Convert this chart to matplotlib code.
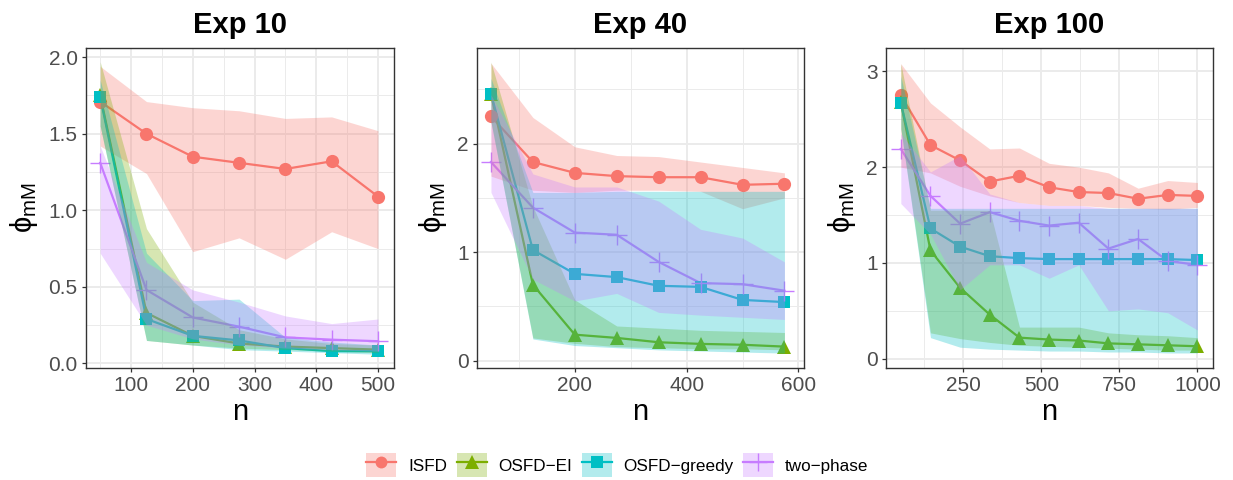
import matplotlib
matplotlib.use("Agg")
import matplotlib.pyplot as plt
from matplotlib.lines import Line2D
from matplotlib.patches import Patch
from matplotlib.legend_handler import HandlerTuple
from matplotlib.ticker import FixedLocator

plt.rcParams['font.family'] = ['Liberation Sans', 'DejaVu Sans']
plt.rcParams['mathtext.fontset'] = 'custom'
plt.rcParams['mathtext.rm'] = 'Liberation Sans'
plt.rcParams['mathtext.it'] = 'Liberation Sans:italic'

# method names / colours (ggplot default hue palette)
methods = ['ISFD', 'OSFD\u2212EI', 'OSFD\u2212greedy', 'two\u2212phase']
colors = ['#F8766D', '#7CAE00', '#00BFC4', '#C77CFF']
markers = ['o', '^', 's', '+']
msizes = [9.5, 10.5, 9, 14]

# ---- Exp 10 ----
n10 = [50, 125, 200, 275, 350, 425, 500]
isfd10 = [1.71, 1.50, 1.35, 1.31, 1.27, 1.32, 1.09]
isfd10_lo = [1.42, 1.24, 0.73, 0.82, 0.68, 0.86, 0.75]
isfd10_hi = [1.94, 1.71, 1.67, 1.65, 1.60, 1.61, 1.52]
ei10 = [1.75, 0.33, 0.18, 0.13, 0.11, 0.10, 0.09]
ei10_lo = [1.55, 0.15, 0.12, 0.10, 0.09, 0.08, 0.07]
ei10_hi = [1.97, 0.88, 0.40, 0.22, 0.16, 0.13, 0.12]
gr10 = [1.74, 0.29, 0.18, 0.15, 0.10, 0.08, 0.08]
gr10_lo = [1.55, 0.15, 0.12, 0.09, 0.08, 0.07, 0.06]
gr10_hi = [1.85, 0.72, 0.41, 0.42, 0.17, 0.14, 0.12]
tp10 = [1.31, 0.48, 0.30, 0.24, 0.17, 0.155, 0.145]
tp10_lo = [0.72, 0.25, 0.16, 0.12, 0.10, 0.09, 0.08]
tp10_hi = [1.42, 0.66, 0.48, 0.40, 0.31, 0.26, 0.29]

# ---- Exp 40 ----
n40 = [50, 125, 200, 275, 350, 425, 500, 575]
isfd40 = [2.25, 1.83, 1.73, 1.70, 1.69, 1.69, 1.62, 1.63]
isfd40_lo = [1.70, 1.57, 1.55, 1.57, 1.57, 1.56, 1.40, 1.50]
isfd40_hi = [2.74, 2.24, 1.97, 1.89, 1.88, 1.83, 1.78, 1.73]
ei40 = [2.46, 0.70, 0.24, 0.21, 0.17, 0.155, 0.147, 0.13]
ei40_lo = [2.20, 0.21, 0.16, 0.13, 0.12, 0.11, 0.11, 0.10]
ei40_hi = [2.75, 1.42, 0.56, 0.32, 0.30, 0.28, 0.27, 0.26]
gr40 = [2.46, 1.02, 0.80, 0.77, 0.69, 0.68, 0.56, 0.54]
gr40_lo = [2.20, 0.20, 0.14, 0.12, 0.10, 0.09, 0.08, 0.07]
gr40_hi = [2.60, 1.55, 1.55, 1.56, 1.56, 1.56, 1.56, 1.56]
tp40 = [1.83, 1.41, 1.18, 1.16, 0.91, 0.715, 0.705, 0.645]
tp40_lo = [1.55, 0.75, 0.55, 0.62, 0.445, 0.42, 0.40, 0.38]
tp40_hi = [2.45, 1.72, 1.60, 1.60, 1.47, 1.21, 1.13, 0.91]

# ---- Exp 100 ----
n100 = [50, 145, 240, 335, 430, 525, 620, 715, 810, 905, 1000]
isfd100 = [2.75, 2.23, 2.07, 1.85, 1.91, 1.79, 1.74, 1.73, 1.67, 1.71, 1.70]
isfd100_lo = [2.00, 1.94, 1.80, 1.70, 1.63, 1.60, 1.60, 1.58, 1.57, 1.56, 1.58]
isfd100_hi = [3.08, 2.67, 2.42, 2.19, 2.20, 2.04, 2.00, 1.94, 1.78, 1.86, 1.84]
ei100 = [2.68, 1.13, 0.74, 0.46, 0.22, 0.20, 0.19, 0.16, 0.15, 0.14, 0.13]
ei100_lo = [2.40, 0.27, 0.21, 0.17, 0.14, 0.13, 0.12, 0.11, 0.10, 0.09, 0.09]
ei100_hi = [3.08, 1.55, 1.55, 1.55, 0.33, 0.33, 0.33, 0.27, 0.25, 0.24, 0.22]
gr100 = [2.67, 1.36, 1.17, 1.07, 1.05, 1.04, 1.04, 1.04, 1.04, 1.04, 1.03]
gr100_lo = [2.40, 0.22, 0.12, 0.10, 0.09, 0.08, 0.08, 0.07, 0.07, 0.06, 0.06]
gr100_hi = [2.95, 1.57, 1.57, 1.57, 1.57, 1.57, 1.57, 1.57, 1.57, 1.57, 1.57]
tp100 = [2.19, 1.70, 1.41, 1.53, 1.44, 1.39, 1.42, 1.15, 1.25, 1.02, 0.98]
tp100_lo = [1.62, 1.30, 0.72, 0.98, 0.98, 0.84, 0.98, 0.50, 0.52, 0.48, 0.30]
tp100_hi = [2.35, 1.95, 2.12, 1.72, 1.63, 1.60, 1.60, 1.57, 1.57, 1.57, 1.57]

panels = [
    dict(title='Exp 10', n=n10,
         mean=[isfd10, ei10, gr10, tp10],
         lo=[isfd10_lo, ei10_lo, gr10_lo, tp10_lo],
         hi=[isfd10_hi, ei10_hi, gr10_hi, tp10_hi],
         xlim=(27, 526), ylim=(-0.03, 2.06),
         xticks=[100, 200, 300, 400, 500], xminor=[50, 150, 250, 350, 450],
         yticks=[0, 0.5, 1.0, 1.5, 2.0], yminor=[0.25, 0.75, 1.25, 1.75],
         ylabels=['0.0', '0.5', '1.0', '1.5', '2.0'],
         pos=[86, 308]),
    dict(title='Exp 40', n=n40,
         mean=[isfd40, ei40, gr40, tp40],
         lo=[isfd40_lo, ei40_lo, gr40_lo, tp40_lo],
         hi=[isfd40_hi, ei40_hi, gr40_hi, tp40_hi],
         xlim=(25, 610), ylim=(-0.067, 2.88),
         xticks=[200, 400, 600], xminor=[100, 300, 500],
         yticks=[0, 1, 2], yminor=[0.5, 1.5, 2.5],
         ylabels=['0', '1', '2'],
         pos=[477, 327]),
    dict(title='Exp 100', n=n100,
         mean=[isfd100, ei100, gr100, tp100],
         lo=[isfd100_lo, ei100_lo, gr100_lo, tp100_lo],
         hi=[isfd100_hi, ei100_hi, gr100_hi, tp100_hi],
         xlim=(2.5, 1050), ylim=(-0.097, 3.244),
         xticks=[250, 500, 750, 1000], xminor=[125, 375, 625, 875],
         yticks=[0, 1, 2, 3], yminor=[0.5, 1.5, 2.5],
         ylabels=['0', '1', '2', '3'],
         pos=[886, 327]),
]

W, H = 1233, 480
fig = plt.figure(figsize=(W / 100, H / 100), dpi=100)

for p in panels:
    left, width = p['pos']
    ax = fig.add_axes([left / W, 1 - 368 / H, width / W, 320 / H])
    # lines and points first, ribbons on top (as in the original)
    for i in range(4):
        ax.plot(p['n'], p['mean'][i], color=colors[i], lw=1.6, zorder=2)
    for i in range(4):
        mew = 1.0 if markers[i] == '+' else 0
        ax.plot(p['n'], p['mean'][i], ls='none', marker=markers[i], ms=msizes[i],
                color=colors[i], mew=mew, zorder=3)
    for i in range(4):
        ax.fill_between(p['n'], p['lo'][i], p['hi'][i], color=colors[i],
                        alpha=0.3, lw=0, zorder=4)

    ax.set_xlim(p['xlim'])
    ax.set_ylim(p['ylim'])
    ax.set_xticks(p['xticks'])
    ax.set_yticks(p['yticks'])
    ax.set_yticklabels(p['ylabels'])
    ax.xaxis.set_minor_locator(FixedLocator(p['xminor']))
    ax.yaxis.set_minor_locator(FixedLocator(p['yminor']))
    ax.grid(which='major', color='#EBEBEB', lw=1.4, zorder=0)
    ax.grid(which='minor', color='#EBEBEB', lw=0.7, zorder=0)
    ax.set_axisbelow(True)
    ax.tick_params(which='major', length=3, width=0.9, color='#333333',
                   labelsize=15, labelcolor='#4D4D4D', pad=3)
    ax.tick_params(which='minor', length=0)
    for s in ax.spines.values():
        s.set_color('#333333')
        s.set_linewidth(1.0)
    ax.set_title(p['title'], fontsize=21, fontweight='bold', pad=11)
    ax.set_xlabel('n', fontsize=21, labelpad=2)
    ax.set_ylabel(r'$\mathrm{\phi}_{\mathrm{mM}}$', fontsize=21, labelpad=6)

handles = []
for i in range(4):
    mew = 1.0 if markers[i] == '+' else 0
    handles.append((Patch(facecolor=colors[i], alpha=0.3, lw=0),
                    Line2D([], [], color=colors[i], lw=1.6, marker=markers[i],
                           ms=msizes[i] * 0.9, mew=mew)))

fig.legend(handles, methods, loc='center', bbox_to_anchor=(617.5 / W, 1 - 465 / H),
           ncol=4, frameon=False, fontsize=12.3,
           handler_map={tuple: HandlerTuple(ndivide=1, pad=0)},
           handlelength=1.75, handleheight=1.75, handletextpad=0.7,
           columnspacing=0.55, numpoints=1)

fig.savefig('out.png', dpi=100)
